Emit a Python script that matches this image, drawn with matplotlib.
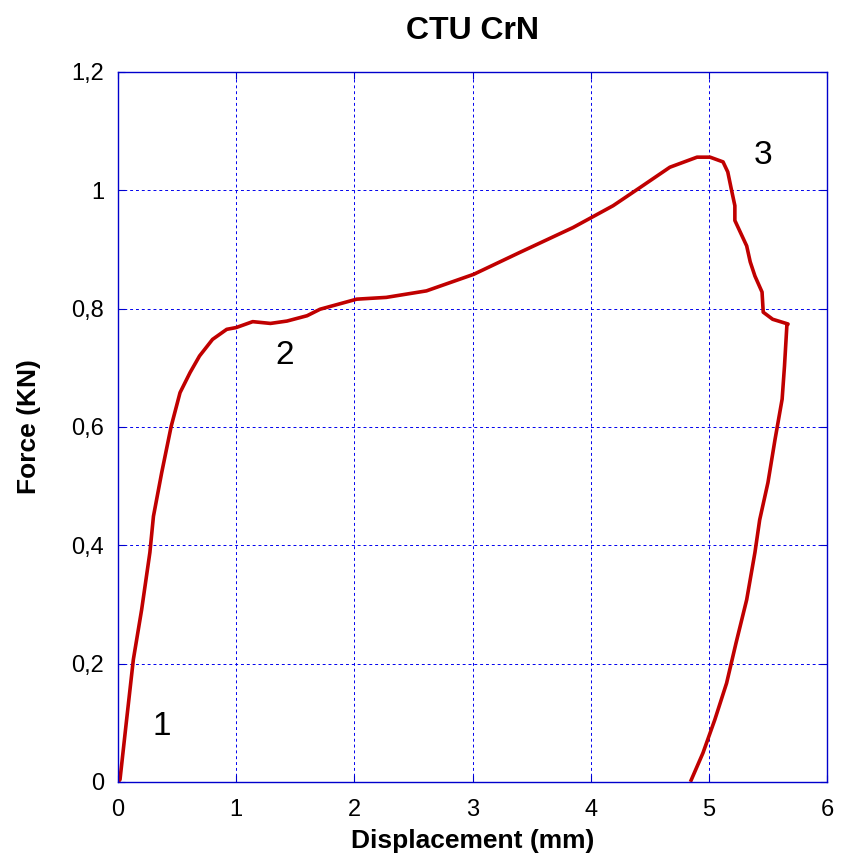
import matplotlib
matplotlib.use("Agg")
import matplotlib.pyplot as plt

plt.rcParams['font.family'] = ['Liberation Sans', 'DejaVu Sans']

# displacement (mm) / force (kN)
disp = [0.0, 0.017, 0.07, 0.13, 0.20, 0.27, 0.30, 0.37, 0.45, 0.525, 0.61, 0.69,
        0.80, 0.92, 1.0, 1.14, 1.29, 1.43, 1.60, 1.71, 2.02, 2.27, 2.61, 3.01, 3.40,
        3.85, 4.19, 4.42, 4.67, 4.90, 5.01, 5.12, 5.16, 5.19, 5.22, 5.22, 5.32, 5.35,
        5.39, 5.45, 5.46, 5.54, 5.67, 5.66, 5.64, 5.62, 5.56, 5.50, 5.43, 5.39,
        5.32, 5.23, 5.15, 5.05, 4.95, 4.85]
force = [0.0, 0.004, 0.10, 0.207, 0.291, 0.388, 0.449, 0.523, 0.601, 0.658, 0.692, 0.72,
         0.748, 0.765, 0.768, 0.778, 0.775, 0.779, 0.788, 0.799, 0.816, 0.819, 0.830, 0.858, 0.895,
         0.937, 0.974, 1.005, 1.039, 1.056, 1.056, 1.048, 1.031, 1.002, 0.974, 0.949, 0.906, 0.879,
         0.855, 0.828, 0.794, 0.782, 0.774, 0.771, 0.703, 0.647, 0.579, 0.506, 0.443, 0.388,
         0.308, 0.235, 0.167, 0.105, 0.049, 0.003]

labels = ['1', '2', '3']
label_x = [0.37, 1.41, 5.46]
label_y = [0.093, 0.72, 1.058]

fig = plt.figure(figsize=(8.41, 8.65), dpi=100)
ax = fig.add_axes([0.1403, 0.096, 0.8431, 0.8208])

ax.plot(disp, force, color='#c00000', lw=2.6, solid_joinstyle='round')
for t, x, y in zip(labels, label_x, label_y):
    ax.text(x, y, t, fontsize=24, ha='center', va='center')

ax.set_xlim(0, 6)
ax.set_ylim(0, 1.2)
ax.set_xticks(range(7))
ax.set_yticks([0, 0.2, 0.4, 0.6, 0.8, 1.0, 1.2])
ax.set_yticklabels(['0', '0,2', '0,4', '0,6', '0,8', '1', '1,2'])
ax.grid(True, color='#0000ee', ls=(0, (3, 3)), lw=0.7)
for s in ax.spines.values():
    s.set_color('#0000cc')
    s.set_linewidth(1.0)
ax.tick_params(direction='in', colors='#0000cc', labelcolor='black', labelsize=17,
               top=True, right=True, length=5, pad=10)
ax.tick_params(axis='x', pad=12)

ax.set_xlabel('Displacement (mm)', fontsize=19, fontweight='bold', labelpad=6)
ax.set_ylabel('Force (KN)', fontsize=19, fontweight='bold', labelpad=22)
ax.set_title('CTU CrN', fontsize=23, fontweight='bold', pad=24)

fig.savefig('out.png', dpi=100)
